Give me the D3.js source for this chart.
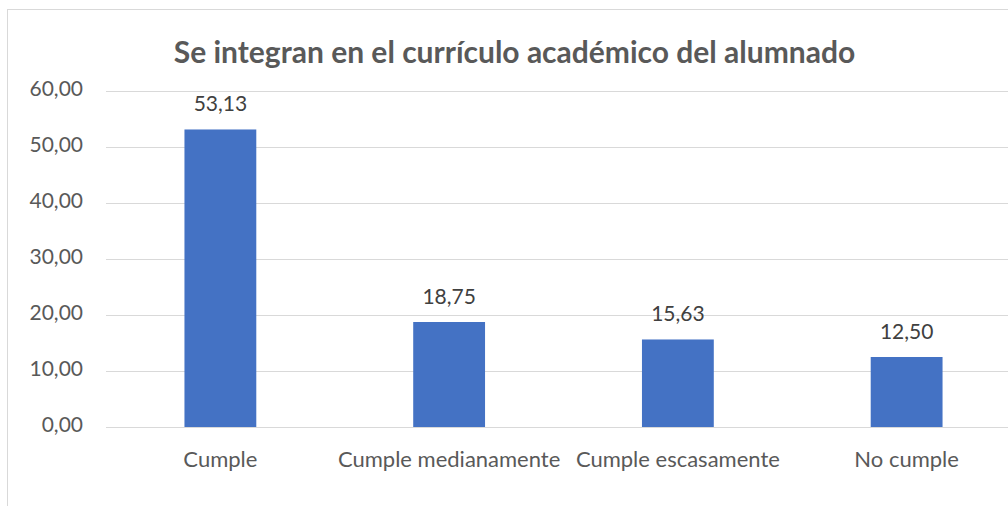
<!DOCTYPE html>
<html>
<head>
<meta charset="utf-8">
<script src="https://cdn.jsdelivr.net/npm/d3@7"></script>
<style>
  body { margin: 0; background: #fff; }
  text { font-family: Lato, "Open Sans", sans-serif; }
</style>
</head>
<body>
<div id="chart"></div>
<script>
const categories = ["Cumple", "Cumple medianamente", "Cumple escasamente", "No cumple"];
const values = [53.13, 18.75, 15.63, 12.50];
const yTicks = [0, 10, 20, 30, 40, 50, 60];
const title = "Se integran en el currículo académico del alumnado";

const width = 1008, height = 506;
const margin = { left: 106, right: -13, top: 91, bottom: 79 };

const svg = d3.select("#chart").append("svg")
    .attr("width", width)
    .attr("height", height);

// chart border
svg.append("rect")
    .attr("x", 7.5).attr("y", 9.5)
    .attr("width", 1020).attr("height", 520)
    .attr("fill", "#fff")
    .attr("stroke", "#d9d9d9")
    .attr("stroke-width", 1);

const x = d3.scaleBand()
    .domain(categories)
    .range([margin.left, width - margin.right])
    .paddingInner(0.686)
    .paddingOuter(0.343);

const y = d3.scaleLinear()
    .domain([0, 60])
    .range([height - margin.bottom, margin.top]);

const fmt = v => d3.format(".2f")(v).replace(".", ",");

// gridlines
svg.append("g")
    .selectAll("line")
    .data(yTicks)
    .join("line")
    .attr("x1", margin.left)
    .attr("x2", width - margin.right)
    .attr("y1", d => Math.round(y(d)) + 0.5)
    .attr("y2", d => Math.round(y(d)) + 0.5)
    .attr("stroke", "#d9d9d9")
    .attr("stroke-width", 1);

// y axis labels
svg.append("g")
    .selectAll("text")
    .data(yTicks)
    .join("text")
    .attr("x", 83)
    .attr("y", d => y(d))
    .attr("dy", "0.25em")
    .attr("text-anchor", "end")
    .attr("font-size", 21)
    .attr("fill", "#595959")
    .text(fmt);

// bars
svg.append("g")
    .selectAll("rect")
    .data(values)
    .join("rect")
    .attr("x", (d, i) => x(categories[i]))
    .attr("width", x.bandwidth())
    .attr("y", d => y(d))
    .attr("height", d => y(0) - y(d))
    .attr("fill", "#4472c4");

// data labels
svg.append("g")
    .selectAll("text")
    .data(values)
    .join("text")
    .attr("x", (d, i) => x(categories[i]) + x.bandwidth() / 2)
    .attr("y", d => y(d) - 18)
    .attr("text-anchor", "middle")
    .attr("font-size", 21)
    .attr("fill", "#404040")
    .text(fmt);

// category labels
svg.append("g")
    .selectAll("text")
    .data(categories)
    .join("text")
    .attr("x", d => x(d) + x.bandwidth() / 2)
    .attr("y", 467)
    .attr("text-anchor", "middle")
    .attr("font-size", 22)
    .attr("fill", "#595959")
    .text(d => d);

// title
svg.append("text")
    .attr("x", 514.5)
    .attr("y", 63)
    .attr("text-anchor", "middle")
    .attr("font-size", 30)
    .attr("font-weight", "bold")
    .attr("fill", "#595959")
    .text(title);
</script>
</body>
</html>
